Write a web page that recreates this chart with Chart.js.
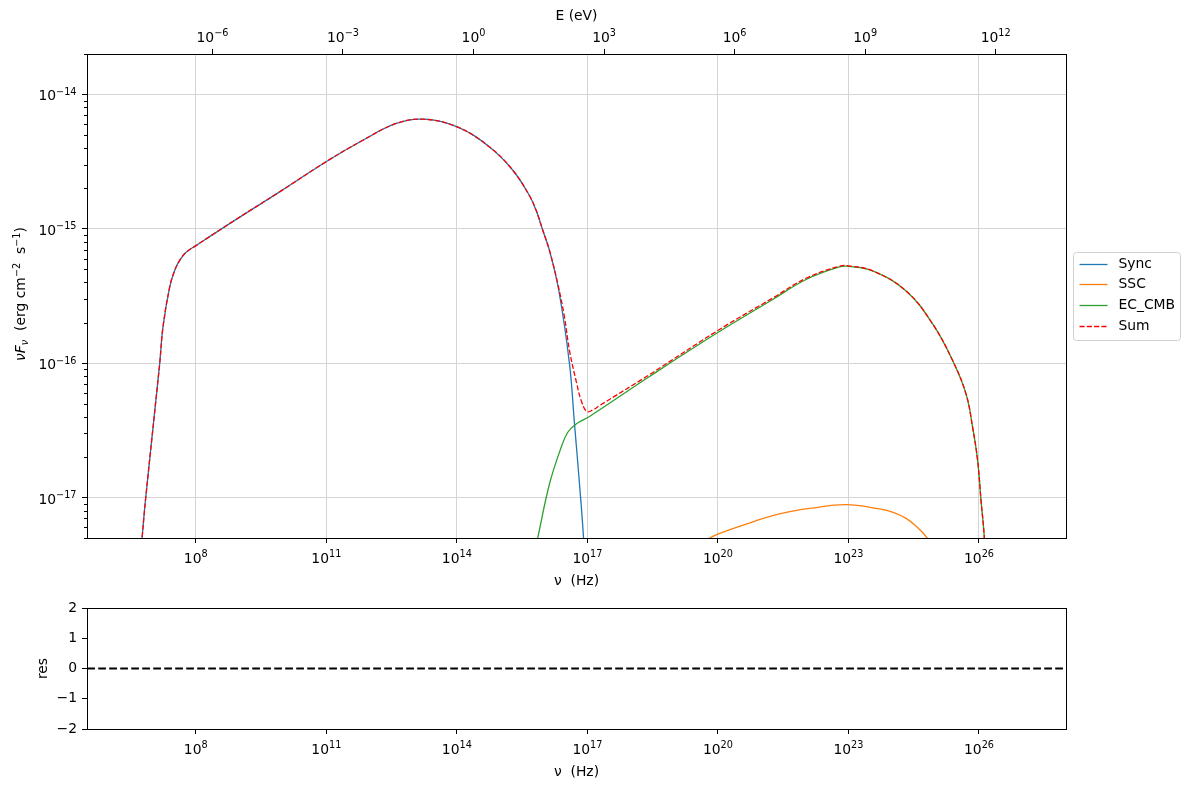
<!DOCTYPE html>
<html lang="en">

<head>
  <meta charset="UTF-8">
  <title>SED model: Sync / SSC / EC_CMB</title>
  <script src="https://cdn.jsdelivr.net/npm/chart.js"></script>
  <style>
    body { margin: 0; background: #fff; }
    canvas { position: absolute; left: 0; }
    #sedChart { top: 0; }
    #resChart { top: 594px; }
  </style>
</head>

<body>
  <canvas id="sedChart" width="1189" height="598"></canvas>
  <canvas id="resChart" width="1189" height="195"></canvas>

  <script>
    // values, as log10(nu / Hz) and log10(nuFnu / erg cm^-2 s^-1)
    const syncLogNu = [6.676, 6.764, 6.849, 7.170, 7.246, 7.400, 7.515, 7.630, 7.784, 8.013, 8.893, 9.927, 11.023, 11.840,
      12.608, 13.219, 14.009, 14.751, 15.286, 15.670, 15.831, 15.975, 16.129, 16.343, 16.589, 16.704, 16.819, 16.911, 16.957];
    const syncLogF = [-17.620, -17.307, -17.003, -16.005, -15.732, -15.434, -15.310, -15.235, -15.173, -15.123, -14.937,
      -14.725, -14.495, -14.341, -14.216, -14.184, -14.242, -14.391, -14.564, -14.754, -14.870, -15.011, -15.161, -15.459,
      -16.005, -16.452, -16.899, -17.297, -17.620];

    const sscLogNu = [18.657, 19.766, 19.996, 20.648, 21.413, 22.178, 22.945, 23.710, 24.030, 24.324, 24.550, 24.820, 25.204];
    const sscLogF = [-17.485, -17.309, -17.272, -17.197, -17.122, -17.078, -17.053, -17.085, -17.110, -17.155, -17.212,
      -17.305, -17.508];

    const ecLogNu = [15.647, 15.861, 16.129, 16.398, 16.550, 16.743, 17.048, 18.427, 19.996, 21.259, 22.027, 22.791,
      23.005, 23.557, 24.324, 24.935, 25.394, 25.702, 25.854, 25.969, 26.047, 26.122, 26.157];
    const ecLogF = [-17.620, -17.297, -16.899, -16.626, -16.514, -16.452, -16.397, -16.099, -15.772, -15.526, -15.377,
      -15.284, -15.280, -15.313, -15.462, -15.708, -15.980, -16.228, -16.477, -16.725, -17.023, -17.297, -17.620];

    const sumLogNu = [6.676, 6.764, 6.849, 7.170, 7.246, 7.400, 7.515, 7.630, 7.784, 8.013, 8.893, 9.927, 11.023, 11.840,
      12.608, 13.219, 14.009, 14.751, 15.286, 15.670, 15.831, 15.975, 16.129, 16.320, 16.474, 16.589, 16.757, 16.858, 16.986,
      17.124, 17.278, 18.427, 19.996, 21.259, 22.027, 22.791, 23.005, 23.557, 24.324, 24.935, 25.394, 25.702, 25.854,
      25.969, 26.047, 26.122, 26.157];
    const sumLogF = [-17.620, -17.307, -17.003, -16.005, -15.732, -15.434, -15.310, -15.235, -15.173, -15.123, -14.937,
      -14.725, -14.495, -14.341, -14.216, -14.184, -14.242, -14.391, -14.564, -14.754, -14.870, -15.011, -15.161, -15.409,
      -15.658, -15.906, -16.154, -16.278, -16.360, -16.348, -16.316, -16.085, -15.757, -15.515, -15.368, -15.278, -15.276,
      -15.313, -15.462, -15.708, -15.980, -16.228, -16.477, -16.725, -17.023, -17.297, -17.620];

    const resNu = [1e5, 1e29];
    const resVal = [0, 0];

    const nuTicks = [1e8, 1e11, 1e14, 1e17, 1e20, 1e23, 1e26];
    const energyTicks = [1e-6, 1e-3, 1, 1e3, 1e6, 1e9, 1e12];
    const fluxTicks = [1e-17, 1e-16, 1e-15, 1e-14];
    const resTicks = [-2, -1, 0, 1, 2];

    const NU_MIN = 3.1623e5, NU_MAX = 1e28;
    const F_MIN = 5e-18, F_MAX = 2e-14;
    const H_EV = 4.135667e-15; // Planck constant, eV s

    const FONT = "'DejaVu Sans', sans-serif";
    Chart.defaults.font.family = FONT;
    Chart.defaults.font.size = 13.9;
    Chart.defaults.color = '#000';

    const pts = (lx, ly) => lx.map((v, i) => ({ x: Math.pow(10, v), y: Math.pow(10, ly[i]) }));
    const powText = (v) => '10^' + Math.round(Math.log10(v));

    function line(label, data, color, width, dash, order) {
      return {
        label: label, data: data, borderColor: color, backgroundColor: color, borderWidth: width,
        borderDash: dash, pointRadius: 0, fill: false, tension: 0.4, order: order,
      };
    }

    function nuAxis(gridOnArea) {
      return {
        type: 'logarithmic', position: 'bottom', min: NU_MIN, max: NU_MAX, bounds: 'data',
        afterBuildTicks: (s) => { s.ticks = nuTicks.map(v => ({ value: v })); },
        ticks: { display: false, callback: powText, autoSkip: false, maxRotation: 0 },
        grid: { drawOnChartArea: gridOnArea, color: '#d5d5d5', lineWidth: 1, tickColor: '#000', tickWidth: 1, tickLength: 5 },
        border: { display: false },
        title: { display: true, text: 'ν  (Hz)', padding: { top: 0, bottom: 8 } },
        afterFit: (s) => { s.height = 60; },
      };
    }

    // "10" with a raised exponent, like the mathtext labels of the original
    function drawPow(ctx, value, x, y, align) {
      const base = '10';
      const sup = String(Math.round(Math.log10(value))).replace('-', '−');
      ctx.font = '13.9px ' + FONT;
      const wb = ctx.measureText(base).width;
      ctx.font = '9.7px ' + FONT;
      const ws = ctx.measureText(sup).width;
      let x0 = align === 'right' ? x - wb - ws : x - (wb + ws) / 2;
      ctx.font = '13.9px ' + FONT;
      ctx.fillText(base, x0, y);
      ctx.font = '9.7px ' + FONT;
      ctx.fillText(sup, x0 + wb, y - 5.5);
    }

    function powLabelsPlugin(axes) {
      return {
        id: 'powLabels',
        afterDraw(chart) {
          const { ctx, chartArea: a } = chart;
          ctx.save();
          ctx.fillStyle = '#000';
          ctx.textBaseline = 'alphabetic';
          ctx.textAlign = 'left';
          axes.forEach(([id, side]) => {
            const s = chart.scales[id];
            s.ticks.forEach(t => {
              const p = s.getPixelForValue(t.value);
              if (side === 'bottom') drawPow(ctx, t.value, p, a.bottom + 24.5, 'center');
              else if (side === 'top') drawPow(ctx, t.value, p, a.top - 12.3, 'center');
              else drawPow(ctx, t.value, a.left - 10.5, p + 6, 'right');
            });
          });
          ctx.restore();
        }
      };
    }

    const framePlugin = {
      id: 'frame',
      afterDatasetsDraw(chart) {
        const { ctx, chartArea: a } = chart;
        ctx.save();
        ctx.strokeStyle = '#000';
        ctx.lineWidth = 1;
        ctx.setLineDash([]);
        ctx.strokeRect(a.left + 0.5, a.top + 0.5, a.right - a.left, a.bottom - a.top);
        ctx.restore();
      }
    };

    // rich text with sub/superscripts: parts are [text, size, dy, italic]
    function drawRich(ctx, parts, x, y, rotate) {
      ctx.save();
      ctx.translate(x, y);
      if (rotate) ctx.rotate(-Math.PI / 2);
      ctx.textBaseline = 'alphabetic';
      ctx.textAlign = 'left';
      ctx.fillStyle = '#000';
      const fonts = parts.map(p => (p[3] ? 'italic ' : '') + p[1] + 'px ' + FONT);
      let total = 0;
      parts.forEach((p, i) => { ctx.font = fonts[i]; total += ctx.measureText(p[0]).width; });
      let cx = -total / 2;
      parts.forEach((p, i) => {
        ctx.font = fonts[i];
        ctx.fillText(p[0], cx, p[2]);
        cx += ctx.measureText(p[0]).width;
      });
      ctx.restore();
    }

    const sedPlugin = {
      id: 'sedExtras',
      afterDraw(chart) {
        const { ctx, chartArea: a } = chart;
        const y = chart.scales.y;
        ctx.save();
        // minor ticks on the flux axis
        ctx.strokeStyle = '#000';
        ctx.lineWidth = 1;
        for (let e = -18; e <= -14; e++) {
          for (let m = 2; m <= 9; m++) {
            const v = m * Math.pow(10, e);
            if (v < F_MIN || v > F_MAX) continue;
            const py = Math.round(y.getPixelForValue(v)) + 0.5;
            ctx.beginPath();
            ctx.moveTo(a.left - 3, py);
            ctx.lineTo(a.left, py);
            ctx.stroke();
          }
        }
        // legend outside the axes, on the right
        const x0 = a.right + 7.5, y0 = Math.round((a.top + a.bottom) / 2) - 43.5, w = 107, h = 88, r = 3;
        ctx.beginPath();
        ctx.moveTo(x0 + r, y0);
        ctx.arcTo(x0 + w, y0, x0 + w, y0 + h, r);
        ctx.arcTo(x0 + w, y0 + h, x0, y0 + h, r);
        ctx.arcTo(x0, y0 + h, x0, y0, r);
        ctx.arcTo(x0, y0, x0 + w, y0, r);
        ctx.closePath();
        ctx.fillStyle = 'rgba(255,255,255,0.8)';
        ctx.fill();
        ctx.strokeStyle = '#d0d0d0';
        ctx.stroke();
        ctx.font = '13.9px ' + FONT;
        ctx.textBaseline = 'middle';
        chart.data.datasets.forEach((ds, i) => {
          const ly = Math.round(y0 + 11 + i * 20.7) + 0.5;
          ctx.strokeStyle = ds.borderColor;
          ctx.lineWidth = ds.borderWidth;
          ctx.setLineDash(ds.borderDash || []);
          ctx.beginPath();
          ctx.moveTo(x0 + 6, ly);
          ctx.lineTo(x0 + 34, ly);
          ctx.stroke();
          ctx.fillStyle = '#000';
          ctx.fillText(ds.label, x0 + 45, ly);
        });
        ctx.setLineDash([]);
        ctx.restore();
        // y axis title
        drawRich(ctx, [
          ['ν', 13.9, 0, true], ['F', 13.9, 0, true], ['ν', 9.7, 3, true],
          ['  (erg cm', 13.9, 0, false], ['−2', 9.7, -5.5, false],
          ['  s', 13.9, 0, false], ['−1', 9.7, -5.5, false], [')', 13.9, 0, false],
        ], 25, (a.top + a.bottom) / 2 - 2, true);
      }
    };

    new Chart(document.getElementById('sedChart').getContext('2d'), {
      type: 'line',
      data: {
        datasets: [
          line('Sync', pts(syncLogNu, syncLogF), '#1f77b4', 1.3, [], 4),
          line('SSC', pts(sscLogNu, sscLogF), '#ff7f0e', 1.3, [], 3),
          line('EC_CMB', pts(ecLogNu, ecLogF), '#2ca02c', 1.3, [], 2),
          line('Sum', pts(sumLogNu, sumLogF), '#ff0000', 1.3, [5.1, 2.2], 1),
        ],
      },
      options: {
        responsive: false,
        animation: false,
        devicePixelRatio: 1,
        layout: { padding: { left: 0, right: 123, top: 0, bottom: 0 } },
        plugins: { legend: { display: false }, tooltip: { enabled: false } },
        scales: {
          x: nuAxis(true),
          x2: {
            type: 'logarithmic', position: 'top', min: NU_MIN * H_EV, max: NU_MAX * H_EV, bounds: 'data',
            afterBuildTicks: (s) => { s.ticks = energyTicks.map(v => ({ value: v })); },
            ticks: { display: false, callback: powText, autoSkip: false, maxRotation: 0 },
            grid: { drawOnChartArea: false, tickColor: '#000', tickWidth: 1, tickLength: 5 },
            border: { display: false },
            title: { display: true, text: 'E (eV)', padding: { top: 8, bottom: 0 } },
            afterFit: (s) => { s.height = 54; },
          },
          y: {
            type: 'logarithmic', position: 'left', min: F_MIN, max: F_MAX, bounds: 'data',
            afterBuildTicks: (s) => { s.ticks = fluxTicks.map(v => ({ value: v })); },
            ticks: { display: false, callback: powText, autoSkip: false },
            grid: { color: '#d5d5d5', lineWidth: 1, tickColor: '#000', tickWidth: 1, tickLength: 5 },
            border: { display: false },
            afterFit: (s) => { s.width = 87; },
          },
        },
      },
      plugins: [framePlugin, sedPlugin, powLabelsPlugin([['x', 'bottom'], ['x2', 'top'], ['y', 'left']])],
    });

    new Chart(document.getElementById('resChart').getContext('2d'), {
      type: 'line',
      data: {
        datasets: [
          {
            label: 'res', data: resNu.map((v, i) => ({ x: v, y: resVal[i] })), borderColor: '#000',
            borderWidth: 2, borderDash: [7.7, 3.3], pointRadius: 0, fill: false,
          },
        ],
      },
      options: {
        responsive: false,
        animation: false,
        devicePixelRatio: 1,
        layout: { padding: { left: 0, right: 123, top: 14, bottom: 0 } },
        plugins: { legend: { display: false }, tooltip: { enabled: false } },
        scales: {
          x: nuAxis(false),
          y: {
            type: 'linear', position: 'left', min: -2, max: 2,
            afterBuildTicks: (s) => { s.ticks = resTicks.map(v => ({ value: v })); },
            ticks: { callback: (v) => (v < 0 ? '−' + Math.abs(v) : String(v)), autoSkip: false, padding: 5 },
            grid: { drawOnChartArea: false, tickColor: '#000', tickWidth: 1, tickLength: 5 },
            border: { display: false },
            title: { display: true, text: 'res', padding: { top: 35, bottom: 0 } },
            afterFit: (s) => { s.width = 87; },
          },
        },
      },
      plugins: [framePlugin, powLabelsPlugin([['x', 'bottom']])],
    });
  </script>
</body>

</html>
